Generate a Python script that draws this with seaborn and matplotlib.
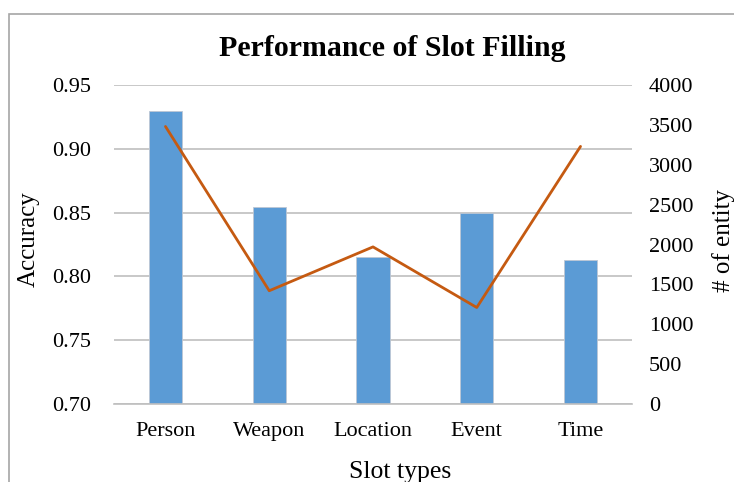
import matplotlib
matplotlib.use("Agg")
import matplotlib.pyplot as plt
import seaborn as sns
import pandas as pd
from matplotlib.patches import Rectangle

categories = ["Person", "Weapon", "Location", "Event", "Time"]
accuracy = [0.930, 0.854, 0.815, 0.850, 0.813]
entity_counts = [3480, 1420, 1970, 1210, 3230]
left_ticks = [0.70, 0.75, 0.80, 0.85, 0.90, 0.95]
right_ticks = [0, 500, 1000, 1500, 2000, 2500, 3000, 3500, 4000]

df = pd.DataFrame({"Slot": categories, "Accuracy": accuracy, "Count": entity_counts})

sns.set_theme(style="white")
plt.rcParams["font.family"] = ["Liberation Serif", "DejaVu Serif"]
plt.rcParams["text.color"] = "black"
plt.rcParams["xtick.color"] = "black"
plt.rcParams["ytick.color"] = "black"

BAR = "#5B9BD5"
LINE = "#C55A11"
GRID = "#BFBFBF"
TICK_FS = 16

fig = plt.figure(figsize=(7.34, 4.82), dpi=100)
ax = fig.add_axes([113.6 / 734, 1 - 404 / 482, (632.4 - 113.6) / 734, (404 - 85) / 482])

sns.barplot(data=df, x="Slot", y="Accuracy", color=BAR, width=0.32, ax=ax,
            saturation=1, zorder=2, edgecolor="#BDC7D4", linewidth=0.6)
ax.set_ylim(0.70, 0.95)
ax.set_yticks(left_ticks)
ax.set_yticklabels([f"{v:.2f}" for v in left_ticks])
ax.set_xlim(-0.5, len(categories) - 0.5)
ax.yaxis.grid(True, color=GRID, linewidth=1.2, zorder=0)
ax.set_axisbelow(True)
for s in ["top", "left", "right"]:
    ax.spines[s].set_visible(False)
ax.spines["bottom"].set_color(GRID)
ax.spines["bottom"].set_linewidth(1.2)
ax.tick_params(axis="both", length=0, labelsize=TICK_FS, colors="black")
ax.tick_params(axis="y", pad=16)
ax.tick_params(axis="x", pad=13)
ax.set_xlabel("")
ax.set_ylabel("")

ax2 = ax.twinx()
sns.lineplot(data=df, x="Slot", y="Count", sort=False, color=LINE, linewidth=2.0, ax=ax2)
ax2.set_ylim(0, 4000)
ax2.set_yticks(right_ticks)
ax2.set_yticklabels([str(v) for v in right_ticks])
ax2.tick_params(axis="y", length=0, pad=12, labelsize=TICK_FS, colors="black")
for s in ax2.spines.values():
    s.set_visible(False)
ax2.set_ylabel("")
ax2.set_xlabel("")
ax2.set_xlim(-0.5, len(categories) - 0.5)

fig.text(392 / 734, 1 - 49 / 482, "Performance of Slot Filling", ha="center", va="center",
         fontsize=21.5, fontweight="bold", color="black")
fig.text(29 / 734, 1 - 239 / 482, "Accuracy", ha="center", va="center", rotation=90,
         fontsize=18, color="black")
fig.text(724 / 734, 1 - 240 / 482, "# of entity", ha="center", va="center", rotation=90,
         fontsize=18, color="black")
fig.text(400 / 734, 1 - 472 / 482, "Slot types", ha="center", va="center",
         fontsize=18.5, color="black")

fig.patches.append(Rectangle((8.5 / 734, -0.2), 1.2, 0.2 + (1 - 13.5 / 482),
                             transform=fig.transFigure, fill=False, edgecolor="#A6A6A6",
                             linewidth=1.2, clip_on=False))

fig.savefig("out.png", dpi=100)
